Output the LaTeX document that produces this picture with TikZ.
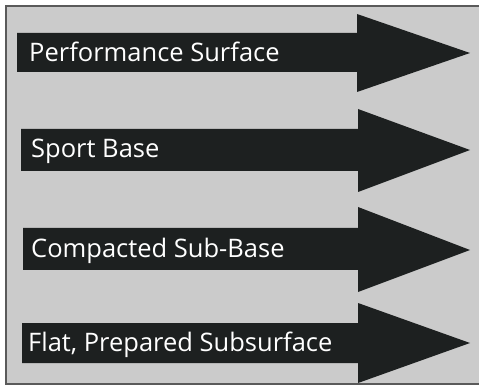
\documentclass[tikz,border=0pt]{standalone}
\usepackage{fontspec}
\setmainfont{Open Sans}
\definecolor{paper}{RGB}{203,203,203}
\definecolor{ink}{RGB}{29,32,32}
\definecolor{rim}{RGB}{90,90,90}
\begin{document}
\begin{tikzpicture}[x=1pt,y=-1pt]
      \tikzstyle{slab}=[fill=ink]
      \tikzstyle{layertext}=[text=white,anchor=west,inner sep=0pt,font=\fontsize{25.5}{30}\selectfont]

      \useasboundingbox (0,0) rectangle (479,387);
      \fill[white] (0,0) rectangle (479,387);
      \fill[paper] (6,6) rectangle (479,384);
      \draw[rim,line width=1.6pt] (479,6) -- (6,6) -- (6,384) -- (479,384);

      \fill[slab] (17,33) -- (357,33) -- (357,14) -- (470,53) -- (357,92) -- (357,72) -- (17,72) -- cycle;
      \fill[slab] (21,129) -- (358,129) -- (358,109) -- (470,150) -- (358,192) -- (358,171) -- (21,171) -- cycle;
      \fill[slab] (23,228) -- (358,228) -- (358,207) -- (470,250) -- (358,292) -- (358,270) -- (23,270) -- cycle;
      \fill[slab] (22,323) -- (358,323) -- (358,303) -- (470,343) -- (358,383) -- (358,363) -- (22,363) -- cycle;

      \node[layertext] (surface) at (29,52) {Performance Surface};
      \node[layertext] (sport) at (31,151) {Sport Base};
      \node[layertext] (subbase) at (31,251) {Compacted Sub-Base};
      \node[layertext] (subsurface) at (28,345) {Flat, Prepared Subsurface};
\end{tikzpicture}
\end{document}
